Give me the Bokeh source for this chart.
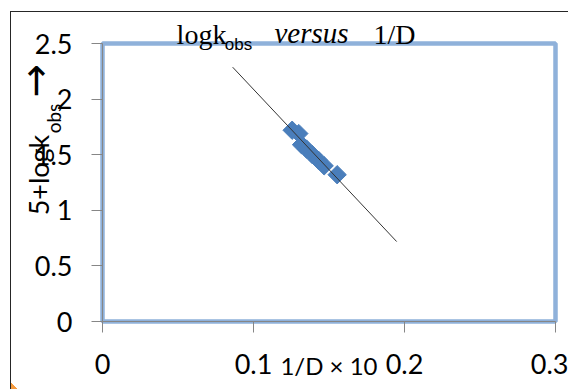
import math
from bokeh.plotting import figure
from bokeh.models import Range1d, FixedTicker, NumeralTickFormatter, LinearAxis
from bokeh.embed import file_html
from bokeh.resources import INLINE

# ---- data ----
inv_d = [0.1256, 0.1300, 0.1318, 0.1352, 0.1390, 0.1430, 0.1468, 0.1554]
log_k = [1.72, 1.69, 1.59, 1.55, 1.50, 1.45, 1.40, 1.32]
fit_x = [0.0862, 0.1948]
fit_y = [2.287, 0.719]
x_ticks = [0, 0.1, 0.2, 0.3]
y_ticks = [0, 0.5, 1, 1.5, 2, 2.5]
x_label = "1/D \u00d7 10"

W, H = 568, 389
FL, FR, FT, FB = 102, 555, 43, 321
X0, X1, Y0, Y1 = 0, 0.3, 0, 2.5

p = figure(width=W, height=H, x_range=Range1d(X0, X1), y_range=Range1d(Y0, Y1),
           output_backend="svg", toolbar_location=None, title=None,
           min_border_left=FL, min_border_right=W - FR,
           min_border_top=FT, min_border_bottom=H - FB)
p.background_fill_color = "white"
p.border_fill_color = None
p.styles = {"background": (
    "linear-gradient(#262626,#262626) 10px 11px/1px 100% no-repeat, "
    "linear-gradient(#262626,#262626) 10px 11px/100% 1px no-repeat, "
    "linear-gradient(to top right, #F59A3E 50%, transparent 50%) 11px 383px/7px 6px no-repeat, white")}
p.xgrid.visible = False
p.ygrid.visible = False
p.outline_line_color = "#8FB1DA"
p.outline_line_width = 4.5

TICK_FONT = "Lato"
TICK_SIZE = "27px"
for ax in (p.xaxis[0], p.yaxis[0]):
    ax.axis_line_color = "#868686"
    ax.major_tick_line_color = "#868686"
    ax.major_tick_out = 11
    ax.major_tick_in = 0
    ax.minor_tick_line_color = None
    ax.major_label_text_font = TICK_FONT
    ax.major_label_text_font_size = TICK_SIZE
    ax.major_label_text_color = "black"
    ax.formatter = NumeralTickFormatter(format="0.[0]")
p.xaxis[0].ticker = FixedTicker(ticks=x_ticks)
p.yaxis[0].ticker = FixedTicker(ticks=y_ticks)
p.xaxis[0].major_label_standoff = 21
p.xaxis[0].axis_label = x_label
p.xaxis[0].axis_label_text_font = TICK_FONT
p.xaxis[0].axis_label_text_font_size = "24px"
p.xaxis[0].axis_label_text_font_style = "normal"
p.xaxis[0].axis_label_text_color = "black"
p.xaxis[0].axis_label_standoff = -26
p.yaxis[0].major_label_standoff = 19
# invisible label that only shortens the left panel so that text axes sit close
p.yaxis[0].axis_label = "\u00a0"
p.yaxis[0].axis_label_text_font_size = "2px"
p.yaxis[0].axis_label_standoff = -40

p.scatter(inv_d, log_k, marker="square", angle=math.pi / 4, size=13,
          fill_color="#4A7EBB", line_color="#4A7EBB")
p.line(fit_x, fit_y, line_color="#333333", line_width=1)


def cx2d(cx):
    return X0 + (cx - FL) / (FR - FL) * (X1 - X0)


def cy2d(cy):
    return Y0 + (FB - cy) / (FB - FT) * (Y1 - Y0)


def text_axis(side, ticks, texts, font, size, standoff, style="normal", orient="horizontal"):
    ax = LinearAxis(ticker=FixedTicker(ticks=ticks),
                    major_label_overrides=dict(zip(ticks, texts)))
    ax.axis_line_color = None
    ax.major_tick_line_color = None
    ax.minor_tick_line_color = None
    ax.major_tick_out = 0
    ax.major_tick_in = 0
    ax.minor_tick_out = 0
    ax.major_label_text_font = font
    ax.major_label_text_font_size = size
    ax.major_label_text_font_style = style
    ax.major_label_text_color = "black"
    ax.major_label_standoff = standoff
    ax.major_label_orientation = orient
    p.add_layout(ax, side)


# title "logk_obs versus 1/D" (inner panel first)
text_axis("above", [cx2d(238)], ["obs"], "Liberation Sans", "17px", -10)
text_axis("above", [cx2d(201), cx2d(394)], ["logk", "1/D"], "Liberation Serif", "28px", -18)
text_axis("above", [cx2d(311)], ["versus"], "Liberation Serif", "29px", -33, style="italic")

# y axis title "5+logk_obs ->" (inner panel first)
text_axis("left", [cy2d(118)], ["obs"], "Lato", "19px", 2, orient="parallel")
text_axis("left", [cy2d(174.5)], ["5+logk"], "Lato", "27px", -16, orient="parallel")
text_axis("left", [cy2d(80)], ["\u2192"], "DejaVu Sans", "40px", -39, orient="parallel")

open("out.html", "w").write(file_html(p, INLINE))
